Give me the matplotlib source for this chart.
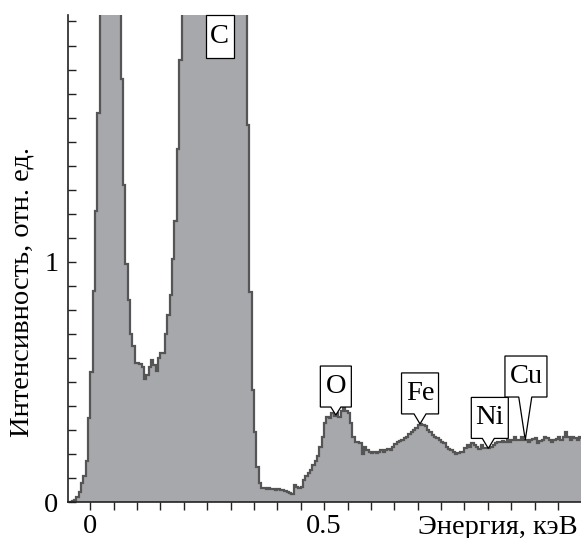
import numpy as np
import matplotlib.pyplot as plt
import matplotlib.transforms as mtransforms
from matplotlib import font_manager
from matplotlib.patches import Polygon
from matplotlib.ticker import FixedLocator, MultipleLocator, NullFormatter

# channel calibration, keV
channel_start = -0.045
channel_width = 0.005

# normalised counts per channel, split by spectrum region
noise_peak = [0.0, 0.005, 0.01, 0.02, 0.04, 0.08, 0.11, 0.17, 0.35, 0.54,
              0.88, 1.21, 1.62, 2.2, 2.6, 2.9, 3.1, 3.1, 2.9, 2.6,
              2.3, 2.1, 1.76, 1.32, 0.99, 0.84, 0.70, 0.65]
carbon_band = [0.58, 0.58, 0.575, 0.56, 0.51, 0.53, 0.56, 0.59, 0.57, 0.545,
               0.60, 0.62, 0.62, 0.70, 0.78, 0.86, 1.01, 1.17, 1.47, 1.84,
               2.2, 2.5, 2.8, 3.1, 3.4, 3.8, 4.2, 4.6, 5.0, 5.3,
               5.6, 5.8, 5.9, 6.0, 6.0, 5.9, 5.7, 5.4, 5.1, 4.7,
               4.3, 3.8, 3.4, 3.0, 2.7, 2.4, 2.2, 2.1,
               1.57, 0.875, 0.466, 0.29, 0.147, 0.08, 0.057]
oxygen_band = [0.057, 0.055, 0.057, 0.054, 0.055, 0.052, 0.056, 0.05, 0.052, 0.045,
               0.04, 0.038, 0.035, 0.07, 0.064, 0.057, 0.064,
               0.09, 0.11, 0.12, 0.135, 0.156, 0.17, 0.19, 0.23, 0.27, 0.33,
               0.355, 0.35, 0.37, 0.36, 0.37, 0.355, 0.38, 0.39, 0.38, 0.37,
               0.33, 0.27, 0.25, 0.25, 0.244, 0.20, 0.23, 0.215, 0.21, 0.205,
               0.21, 0.205, 0.21, 0.215, 0.21, 0.216, 0.22, 0.216, 0.23, 0.24]
metal_band = [0.25, 0.255, 0.26, 0.265, 0.27, 0.285, 0.29, 0.30, 0.31, 0.32,
              0.325, 0.32, 0.315, 0.30, 0.29, 0.28, 0.27, 0.265, 0.258, 0.25,
              0.244, 0.23, 0.22, 0.216, 0.21, 0.20, 0.205, 0.21, 0.21, 0.223,
              0.237, 0.23, 0.244, 0.237, 0.23, 0.22, 0.237, 0.223, 0.225, 0.223,
              0.23, 0.237, 0.245, 0.25, 0.248, 0.252, 0.25, 0.258, 0.25, 0.26,
              0.27, 0.258, 0.26, 0.27, 0.26, 0.258, 0.25, 0.258, 0.262, 0.265,
              0.244, 0.255, 0.258, 0.27, 0.265, 0.26, 0.25, 0.256, 0.262, 0.27,
              0.258, 0.27, 0.29, 0.27, 0.258, 0.27, 0.265, 0.26, 0.27, 0.265]

# element lines and the intensity each marker points at
line_names = ["C", "O", "Fe", "Ni", "Cu"]
line_energies = [0.277, 0.525, 0.705, 0.851, 0.930]
line_levels = [1.85, 0.362, 0.325, 0.223, 0.258]

FS = 20.5
serif_names = ["Liberation Serif", "Times New Roman", "Nimbus Roman", "DejaVu Serif"]
installed = {f.name for f in font_manager.fontManager.ttflist}
FONT = [n for n in serif_names if n in installed] or ["DejaVu Serif"]

plt.rcParams["font.family"] = "serif"
plt.rcParams["font.serif"] = FONT


def draw_marker(ax, name, energy, level, width, rise, base, shift=0.0, height=41):
    """Box with a downward pointer; sizes are pixels at 100 dpi."""
    left, right = shift - width / 2, shift + width / 2
    top = rise + height
    verts = [(0, 0), (base, rise), (right, rise), (right, top),
             (left, top), (left, rise), (-base, rise)]
    trans = (mtransforms.Affine2D().scale(ax.figure.dpi / 100)
             + mtransforms.ScaledTranslation(energy, level, ax.transData))
    ax.add_patch(Polygon(verts, closed=True, facecolor="white", edgecolor="black",
                         lw=0.9, transform=trans, clip_on=False, zorder=5))
    ax.text(shift, rise + height / 2, name, transform=trans, ha="center",
            va="center", fontsize=FS, zorder=6)


def main():
    counts = np.concatenate([noise_peak, carbon_band, oxygen_band, metal_band])
    edges = channel_start + channel_width * np.arange(len(counts) + 1)

    fig = plt.figure(figsize=(5.81, 5.38), dpi=100)
    ax = fig.add_axes([68 / 581, 36 / 538, 513 / 581, 487 / 538])

    ax.stairs(counts, edges, fill=True, color="#a6a8ab", baseline=0, zorder=1)
    ax.stairs(counts, edges, baseline=None, color="#555555", lw=1.6, zorder=2)

    ax.set_xlim(-0.0477, 1.0492)
    ax.set_ylim(0, 2.027)

    for side in ("top", "right"):
        ax.spines[side].set_visible(False)
    for side in ("left", "bottom"):
        ax.spines[side].set_linewidth(1.2)
        ax.spines[side].set_color("#222222")

    ax.xaxis.set_major_locator(FixedLocator([0, 0.5]))
    ax.xaxis.set_minor_locator(MultipleLocator(0.05))
    ax.set_xticklabels(["0", "0.5"])
    ax.yaxis.set_major_locator(FixedLocator([0, 1]))
    ax.yaxis.set_minor_locator(MultipleLocator(0.1))
    ax.set_yticklabels(["0", "1"])
    ax.xaxis.set_minor_formatter(NullFormatter())

    ax.tick_params(axis="x", which="both", direction="out", length=6, width=1.0,
                   color="#222222", pad=2.5, labelsize=FS)
    ax.tick_params(axis="y", which="both", direction="in", length=6, width=1.0,
                   color="#222222", pad=7, labelsize=FS)

    fig.text(22 / 581, 1 - 292 / 538, "Интенсивность, отн. ед.", rotation=90,
             ha="center", va="center", fontsize=FS)
    fig.text(578 / 581, 1 - 527 / 538, "Энергия, кэВ", ha="right", va="center",
             fontsize=FS)

    # box geometry per element: width, rise above the curve, pointer half-base, shift
    geometry = {
        "C": (28, 0, 0, 0.0),
        "O": (31, 8, 5, 0.0),
        "Fe": (37, 10, 6, 0.0),
        "Ni": (37, 10, 6, 1.5),
        "Cu": (42, 43, 6.5, 0.7),
    }
    for name, energy, level in zip(line_names, line_energies, line_levels):
        width, rise, base, shift = geometry[name]
        draw_marker(ax, name, energy, level, width, rise, base, shift,
                    height=43 if name == "C" else 41)

    fig.savefig("out.png", dpi=100)


if __name__ == "__main__":
    main()
